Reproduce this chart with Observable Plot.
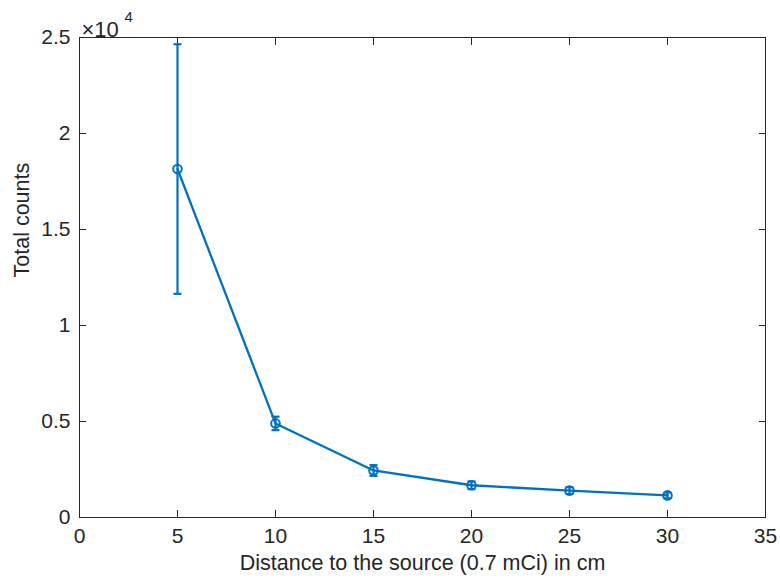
<!DOCTYPE html>
<html>
<head>
<meta charset="utf-8">
<script src="https://cdn.jsdelivr.net/npm/d3@7"></script>
<script src="https://cdn.jsdelivr.net/npm/@observablehq/plot@0.6"></script>
<style>
  html, body { margin: 0; padding: 0; background: #fff; }
  svg { display: block; }
</style>
</head>
<body>
<div id="chart"></div>
<script>
const distance = [5, 10, 15, 20, 25, 30];
const counts = [18150, 4900, 2450, 1680, 1400, 1150];
const errors = [6500, 350, 280, 200, 180, 150];
const xTicks = [0, 5, 10, 15, 20, 25, 30, 35];
const yTicks = [0, 5000, 10000, 15000, 20000, 25000];
const yTickLabels = ["0", "0.5", "1", "1.5", "2", "2.5"];
const xTitle = "Distance to the source (0.7 mCi) in cm";
const yTitle = "Total counts";

const data = distance.map((d, i) => ({x: d, y: counts[i], lo: counts[i] - errors[i], hi: counts[i] + errors[i]}));

const blue = "#0072BD";
const ink = "#262626";
const font = "Liberation Sans, Arial, Helvetica, sans-serif";

const capSymbol = {
  draw(context) {
    context.moveTo(-4, 0);
    context.lineTo(4, 0);
  }
};

const chart = Plot.plot({
  width: 780,
  height: 582,
  marginTop: 37,
  marginRight: 15,
  marginBottom: 65,
  marginLeft: 79,
  style: {fontFamily: font, fontSize: "21px", color: ink, background: "#fff"},
  x: {domain: [0, 35]},
  y: {domain: [0, 25000]},
  marks: [
    Plot.frame({stroke: ink, strokeWidth: 1}),
    Plot.axisX({ticks: xTicks, tickSize: -7, tickFormat: () => "", label: null, stroke: ink}),
    Plot.axisX({anchor: "top", ticks: xTicks, tickSize: -7, tickFormat: () => "", label: null, stroke: ink}),
    Plot.axisY({ticks: yTicks, tickSize: -7, tickFormat: () => "", label: null, stroke: ink}),
    Plot.axisY({anchor: "right", ticks: yTicks, tickSize: -7, tickFormat: () => "", label: null, stroke: ink}),
    Plot.axisX({ticks: xTicks, tickSize: 0, tickPadding: 11, label: null, fill: ink, fontSize: 21}),
    Plot.axisY({ticks: yTicks, tickSize: 0, tickPadding: 9, label: null, fill: ink, fontSize: 21,
      tickFormat: d => yTickLabels[yTicks.indexOf(d)]}),
    Plot.text([xTitle], {frameAnchor: "bottom", dy: 52, fill: ink, fontSize: 21.5}),
    Plot.text([yTitle], {frameAnchor: "left", dx: -57, rotate: -90, fill: ink, fontSize: 21.5}),
    Plot.text(["\u00d710"], {frameAnchor: "top-left", dx: 2, dy: -16, textAnchor: "start", fill: ink, fontSize: 22}),
    Plot.text(["4"], {frameAnchor: "top-left", dx: 45, dy: -26, textAnchor: "start", fill: ink, fontSize: 15}),
    Plot.ruleX(data, {x: "x", y1: "lo", y2: "hi", stroke: blue, strokeWidth: 2.2}),
    Plot.dot(data, {x: "x", y: "lo", symbol: capSymbol, r: 4, stroke: blue, strokeWidth: 2.2}),
    Plot.dot(data, {x: "x", y: "hi", symbol: capSymbol, r: 4, stroke: blue, strokeWidth: 2.2}),
    Plot.line(data, {x: "x", y: "y", stroke: blue, strokeWidth: 2.3}),
    Plot.dot(data, {x: "x", y: "y", r: 4.3, stroke: blue, strokeWidth: 2, fill: "none"})
  ]
});
document.getElementById("chart").appendChild(chart);
</script>
</body>
</html>
